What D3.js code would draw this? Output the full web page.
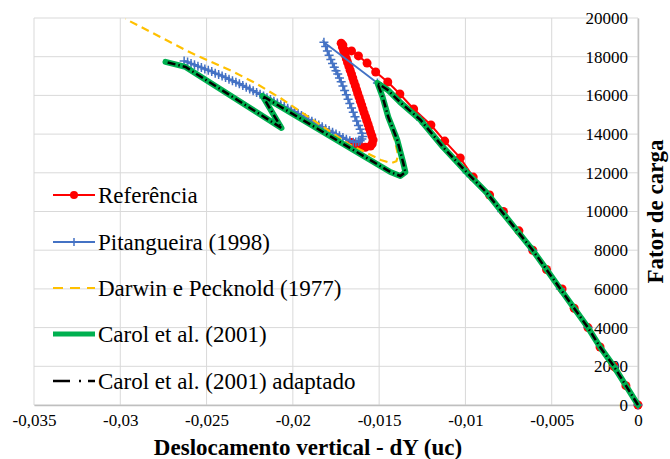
<!DOCTYPE html>
<html>
<head>
<meta charset="utf-8">
<script src="https://cdn.jsdelivr.net/npm/d3@7"></script>
<style>
  body { margin: 0; background: #fff; }
</style>
</head>
<body>
<div id="container"></div>
<script>
const width = 670;
const height = 459;
const marginTop = 18;
const marginRight = 32;
const marginBottom = 54;
const marginLeft = 34;
const serif = "'Liberation Serif'";

// ticks
const xTicks = [-0.035, -0.03, -0.025, -0.02, -0.015, -0.01, -0.005, 0];
const xTickLabels = ["-0,035", "-0,03", "-0,025", "-0,02", "-0,015", "-0,01", "-0,005", "0"];
const yTicks = [0, 2000, 4000, 6000, 8000, 10000, 12000, 14000, 16000, 18000, 20000];

const seriesNames = ["Referência", "Pitangueira (1998)", "Darwin e Pecknold (1977)", "Carol et al. (2001)", "Carol et al. (2001) adaptado"];

// Referência
const refX = [0, -0.0007, -0.0014, -0.0022, -0.0029, -0.0037, -0.0044, -0.0053, -0.0061, -0.0069, -0.0078, -0.0086,
  -0.00955, -0.0103, -0.0112, -0.0120, -0.0130, -0.0138, -0.0145, -0.0152, -0.0157, -0.0162, -0.0166, -0.0171,
  -0.0172, -0.01713, -0.01705, -0.01698, -0.0169, -0.01683, -0.01675, -0.01668, -0.0166, -0.01653, -0.01646,
  -0.01638, -0.01631, -0.01624, -0.01616, -0.01609, -0.01601, -0.01594, -0.01587, -0.01579, -0.01572, -0.01564,
  -0.01557, -0.0155, -0.01542, -0.01535, -0.0154, -0.0155, -0.0158, -0.0161, -0.0164, -0.0166];
const refY = [0, 1000, 2000, 3000, 4000, 5000, 6000, 7000, 8000, 9000, 10000, 10850,
  11780, 12770, 13640, 14470, 15300, 16070, 16690, 17210, 17670, 18040, 18300, 18600,
  18700, 18500, 18300, 18100, 17900, 17700, 17500, 17300, 17100, 16900, 16700,
  16500, 16300, 16100, 15900, 15700, 15500, 15300, 15100, 14900, 14700, 14500,
  14300, 14100, 13900, 13700, 13500, 13380, 13320, 13380, 13480, 13560];

// Pitangueira (1998)
const pitX = [0, -0.0014, -0.0029, -0.0045, -0.0061, -0.0079, -0.0099, -0.0126, -0.0151,
  -0.0182, -0.0181, -0.0180, -0.0179, -0.0178, -0.0177, -0.0176, -0.0175, -0.0174, -0.0173, -0.0172,
  -0.0171, -0.0170, -0.0169, -0.0168, -0.0167, -0.0166, -0.0165, -0.0164, -0.0163, -0.0162, -0.0161,
  -0.0160, -0.01595, -0.0160, -0.0161, -0.0162, -0.01635, -0.0165,
  -0.0167, -0.0169, -0.0171, -0.0173, -0.0175, -0.0177, -0.0179, -0.0181, -0.0183, -0.0185, -0.0187,
  -0.0189, -0.0191, -0.0193, -0.0195, -0.0197, -0.0199, -0.0201, -0.0203, -0.0205, -0.0207, -0.0209,
  -0.0211, -0.0213, -0.0215, -0.0217, -0.0219, -0.0221, -0.0223, -0.0225, -0.0227, -0.0229, -0.0231,
  -0.0233, -0.0235, -0.0237, -0.0239, -0.0241, -0.0243, -0.0245, -0.0247, -0.0249, -0.0251, -0.0253,
  -0.0255, -0.0257, -0.0259, -0.0261, -0.0263];
const pitY = [0, 2000, 4000, 6000, 8000, 10000, 12000, 14730, 16640,
  18750, 18530, 18300, 18080, 17850, 17650, 17450, 17270, 17100, 16900, 16700,
  16480, 16250, 16030, 15800, 15580, 15350, 15130, 14900, 14680, 14450, 14250,
  14050, 13880, 13750, 13660, 13620, 13590, 13580,
  13650, 13740, 13830, 13920, 14010, 14100, 14190, 14280, 14380, 14470, 14570,
  14660, 14760, 14860, 14960, 15060, 15150, 15250, 15340, 15430, 15520, 15610,
  15700, 15790, 15880, 15970, 16060, 16150, 16240, 16330, 16420, 16510, 16600,
  16680, 16760, 16840, 16920, 17000, 17080, 17150, 17230, 17300, 17370, 17440,
  17510, 17580, 17650, 17720, 17780];

// Darwin e Pecknold (1977)
const darX = [0, -0.0014, -0.0029, -0.0045, -0.0061, -0.0079, -0.0099, -0.0113, -0.0126, -0.0138, -0.0145, -0.0151,
  -0.0148, -0.0145, -0.0141, -0.0139, -0.0140, -0.0143, -0.0149, -0.0157, -0.0167, -0.0177, -0.0192, -0.0207,
  -0.0222, -0.0234, -0.0259, -0.0297];
const darY = [0, 2000, 4000, 6000, 8000, 10000, 12000, 13330, 14730, 15660, 16280, 16640,
  15900, 14900, 13700, 12900, 12600, 12500, 12660, 13020, 13450, 14050, 14950, 15850,
  16650, 17200, 18200, 19950];

// Carol et al. (2001)
const carX = [0, -0.0007, -0.0014, -0.0022, -0.0029, -0.0037, -0.0045, -0.0053, -0.0061, -0.0070, -0.0079, -0.0088,
  -0.0099, -0.0113, -0.0126, -0.0138, -0.0145, -0.0151, -0.0148, -0.01447, -0.01395, -0.0136, -0.01348, -0.01377,
  -0.01435, -0.02176, -0.02066, -0.02622, -0.02738];
const carY = [0, 1000, 2000, 3000, 4000, 5000, 6000, 7000, 8000, 9000, 10000, 11000,
  12000, 13330, 14730, 15660, 16280, 16640, 15920, 14880, 13700, 12500, 12040, 11835,
  12040, 15970, 14315, 17470, 17730];

// Carol et al. (2001) adaptado
const adaX = [0, -0.0007, -0.0014, -0.0022, -0.0029, -0.0037, -0.0045, -0.0053, -0.0061, -0.0070, -0.0079, -0.0088,
  -0.0099, -0.0113, -0.0126, -0.0138, -0.0145, -0.0151, -0.0148, -0.01447, -0.01395, -0.0136, -0.01348, -0.01377,
  -0.01435, -0.02176, -0.02066, -0.02622, -0.02738];
const adaY = [0, 1000, 2000, 3000, 4000, 5000, 6000, 7000, 8000, 9000, 10000, 11000,
  12000, 13330, 14730, 15660, 16280, 16640, 15920, 14880, 13700, 12500, 12040, 11835,
  12040, 15970, 14315, 17470, 17730];

const svg = d3.select("#container")
  .append("svg")
  .attr("width", width)
  .attr("height", height);

const x = d3.scaleLinear()
  .domain([-0.035, 0])
  .range([marginLeft, width - marginRight]);

const y = d3.scaleLinear()
  .domain([0, 20000])
  .range([height - marginBottom, marginTop]);

// gridlines
svg.append("g")
  .selectAll("line")
  .data(xTicks)
  .join("line")
  .attr("x1", d => x(d)).attr("x2", d => x(d))
  .attr("y1", y(0)).attr("y2", y(20000))
  .attr("stroke", "#d9d9d9")
  .attr("stroke-width", 1);

svg.append("g")
  .selectAll("line")
  .data(yTicks)
  .join("line")
  .attr("x1", x(-0.035)).attr("x2", x(0))
  .attr("y1", d => y(d)).attr("y2", d => y(d))
  .attr("stroke", "#d9d9d9")
  .attr("stroke-width", 1);

// axes
const xAxis = svg.append("g")
  .attr("transform", `translate(0,${y(0)})`)
  .call(d3.axisBottom(x)
    .tickValues(xTicks)
    .tickFormat((d, i) => xTickLabels[i])
    .tickSize(0)
    .tickPadding(9));

const yAxis = svg.append("g")
  .attr("transform", `translate(${x(0)},0)`)
  .call(d3.axisLeft(y)
    .tickValues(yTicks)
    .tickFormat(d => String(d))
    .tickSize(0)
    .tickPadding(10));

[xAxis, yAxis].forEach(g => {
  g.attr("font-family", null).attr("font-size", null);
  g.select(".domain").attr("stroke", "#bfbfbf").attr("stroke-width", 1.5);
  g.selectAll("text")
    .style("font-family", serif)
    .style("font-size", "17px")
    .attr("fill", "#000");
});

// series
const line = d3.line()
  .x(d => x(d[0]))
  .y(d => y(d[1]));

const refData = d3.zip(refX, refY);
const pitData = d3.zip(pitX, pitY);
const darData = d3.zip(darX, darY);
const carData = d3.zip(carX, carY);
const adaData = d3.zip(adaX, adaY);

svg.append("path")
  .attr("d", line(refData))
  .attr("fill", "none")
  .attr("stroke", "#ff0000")
  .attr("stroke-width", 2);

svg.append("g")
  .selectAll("circle")
  .data(refData)
  .join("circle")
  .attr("cx", d => x(d[0]))
  .attr("cy", d => y(d[1]))
  .attr("r", 4.5)
  .attr("fill", "#ff0000");

svg.append("path")
  .attr("d", line(pitData))
  .attr("fill", "none")
  .attr("stroke", "#4472c4")
  .attr("stroke-width", 1.8);

svg.append("g")
  .selectAll("path")
  .data(pitData)
  .join("path")
  .attr("transform", d => `translate(${x(d[0])},${y(d[1])})`)
  .attr("d", "M-4.5,0H4.5M0,-4.5V4.5")
  .attr("stroke", "#4472c4")
  .attr("stroke-width", 1.5);

svg.append("path")
  .attr("d", line(darData))
  .attr("fill", "none")
  .attr("stroke", "#ffc000")
  .attr("stroke-width", 2.2)
  .attr("stroke-dasharray", "8,5");

svg.append("path")
  .attr("d", line(carData))
  .attr("fill", "none")
  .attr("stroke", "#00b050")
  .attr("stroke-width", 6)
  .attr("stroke-linejoin", "round")
  .attr("stroke-linecap", "round");

svg.append("path")
  .attr("d", line(adaData))
  .attr("fill", "none")
  .attr("stroke", "#000")
  .attr("stroke-width", 2.5)
  .attr("stroke-dasharray", "8,3,1.5,3");

// legend
const legendRows = [195, 242, 288, 334, 381];
const legend = svg.append("g");

seriesNames.forEach((name, i) => {
  const ly = legendRows[i];
  const g = legend.append("g");
  const sample = g.append("line")
    .attr("x1", 53).attr("x2", 95)
    .attr("y1", ly).attr("y2", ly);
  if (i === 0) {
    sample.attr("stroke", "#ff0000").attr("stroke-width", 2);
    g.append("circle").attr("cx", 74).attr("cy", ly).attr("r", 4).attr("fill", "#ff0000");
  } else if (i === 1) {
    sample.attr("stroke", "#4472c4").attr("stroke-width", 1.8);
    g.append("path").attr("transform", `translate(74,${ly})`)
      .attr("d", "M-4,0H4M0,-4V4").attr("stroke", "#4472c4").attr("stroke-width", 1.5);
  } else if (i === 2) {
    sample.attr("stroke", "#ffc000").attr("stroke-width", 2.2).attr("stroke-dasharray", "10,7");
  } else if (i === 3) {
    sample.attr("stroke", "#00b050").attr("stroke-width", 5);
  } else {
    sample.attr("stroke", "#000").attr("stroke-width", 2.5).attr("stroke-dasharray", "17,9,2,7,10");
  }
  g.append("text")
    .attr("x", 98)
    .attr("y", ly + 7.5)
    .style("font-family", serif)
    .style("font-size", "23px")
    .attr("fill", "#000")
    .text(name);
});

// axis titles
svg.append("text")
  .attr("x", 308)
  .attr("y", 455)
  .attr("text-anchor", "middle")
  .style("font-family", serif)
  .style("font-size", "23px")
  .style("font-weight", "bold")
  .text("Deslocamento vertical - dY (uc)");

svg.append("text")
  .attr("transform", `translate(663,${(y(0) + y(20000)) / 2}) rotate(-90)`)
  .attr("text-anchor", "middle")
  .style("font-family", serif)
  .style("font-size", "23px")
  .style("font-weight", "bold")
  .text("Fator de carga");
</script>
</body>
</html>
